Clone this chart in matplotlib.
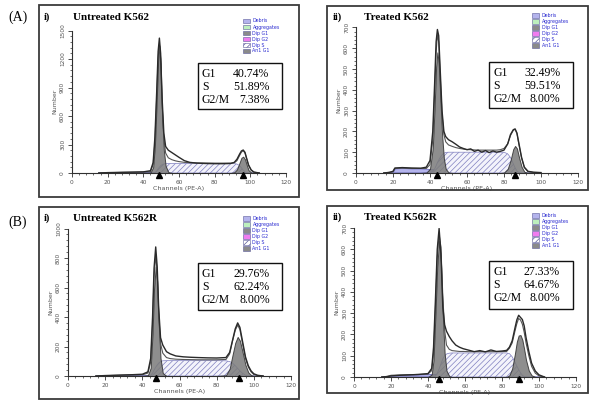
import matplotlib
matplotlib.use('Agg')
import matplotlib.pyplot as plt
from matplotlib.patches import Rectangle
from matplotlib.ticker import MultipleLocator
from matplotlib.transforms import offset_copy

plt.rcParams['hatch.linewidth'] = 0.5
plt.rcParams['font.family'] = ['DejaVu Sans']

# ---------------- data ----------------
group_labels = ['(A)', '(B)']
roman = ['i)', 'ii)', 'i)', 'ii)']
titles = ['Untreated K562', 'Treated K562', 'Untreated K562R', 'Treated K562R']
phase_labels = ['G1', 'S', 'G2/M']
phase_values = [['40.74%', '51.89%', '7.38%'],
                ['32.49%', '59.51%', '8.00%'],
                ['29.76%', '62.24%', '8.00%'],
                ['27.33%', '64.67%', '8.00%']]
legend_labels = ['Debris', 'Aggregates', 'Dip G1', 'Dip G2', 'Dip S', 'An1 G1']
x_ticks_step = 20
y_ticks_step = [300, 100, 200, 100]
y_max = [1500, 700, 1000, 700]
peak_marks = [[49, 96], [44, 86], [47.5, 92], [46, 89]]

# Panel A-i : Untreated K562
ch1 = [15, 20, 25, 30, 35, 40, 44, 45.5, 46.5, 47.5, 48.3, 49, 49.7, 50.5, 51.5, 52.5, 54, 56, 58, 60,
       63, 66, 70, 75, 80, 85, 89, 91, 92.5, 94, 95, 96, 97, 98, 99, 100.5, 102, 105]
total1 = [0, 4, 6, 8, 10, 12, 24, 110, 380, 860, 1280, 1420, 1260, 800, 420, 280, 240, 215, 190, 165,
          130, 112, 104, 100, 98, 98, 100, 112, 145, 200, 232, 242, 218, 150, 85, 32, 10, 0]
fit1 = [0, 3, 5, 7, 8, 10, 14, 90, 330, 800, 1210, 1360, 1200, 740, 360, 210, 160, 140, 128, 120,
        112, 108, 106, 105, 104, 104, 104, 108, 130, 185, 220, 236, 210, 145, 80, 28, 8, 0]
deb1 = [0, 3, 5, 7, 8, 10, 12, 12, 12, 11, 11, 10, 10, 10, 9, 9, 8, 7, 6, 5,
        4, 3, 2, 1, 0, 0, 0, 0, 0, 0, 0, 0, 0, 0, 0, 0, 0, 0]
g1_1 = [0, 0, 0, 0, 0, 0, 5, 60, 290, 760, 1180, 1340, 1160, 640, 240, 75, 10, 0, 0, 0,
        0, 0, 0, 0, 0, 0, 0, 0, 0, 0, 0, 0, 0, 0, 0, 0, 0, 0]
s1 = [0, 0, 0, 0, 0, 0, 0, 0, 4, 22, 45, 62, 76, 88, 95, 98, 100, 100, 100, 100,
      100, 100, 100, 100, 100, 100, 100, 99, 94, 78, 55, 30, 12, 3, 0, 0, 0, 0]
g2_1 = [0, 0, 0, 0, 0, 0, 0, 0, 0, 0, 0, 0, 0, 0, 0, 0, 0, 0, 0, 0,
        0, 0, 0, 0, 0, 0, 0, 8, 38, 110, 160, 172, 145, 85, 30, 5, 0, 0]

# Panel A-ii : Treated K562
ch2 = [15, 18, 20, 21, 25, 30, 35, 38, 40, 41.5, 42.5, 43.3, 44, 44.7, 45.5, 46.5, 47.5, 48.5, 50, 52,
       54, 56, 58, 60, 62, 64, 66, 68, 70, 72, 74, 76, 78, 80, 82, 83.5, 85, 86, 87, 88,
       89.5, 91, 93, 96, 100]
total2 = [0, 3, 8, 24, 26, 24, 23, 28, 60, 200, 430, 630, 690, 660, 500, 300, 200, 175, 160, 150,
          138, 125, 118, 112, 116, 104, 110, 100, 108, 98, 106, 100, 104, 110, 140, 185, 208, 212, 192, 145,
          75, 28, 8, 4, 2]
fit2 = [0, 3, 6, 22, 24, 22, 22, 22, 40, 160, 380, 580, 665, 630, 470, 285, 185, 150, 135, 128,
        122, 118, 115, 113, 112, 111, 110, 110, 110, 110, 110, 110, 112, 118, 140, 180, 205, 210, 190, 140,
        72, 26, 6, 2, 0]
deb2 = [0, 3, 6, 22, 24, 22, 22, 21, 19, 18, 17, 16, 15, 15, 14, 13, 12, 11, 10, 8,
        6, 5, 4, 3, 2, 2, 1, 1, 0, 0, 0, 0, 0, 0, 0, 0, 0, 0, 0, 0,
        0, 0, 0, 0, 0]
g1_2 = [0, 0, 0, 0, 0, 0, 0, 2, 20, 120, 320, 510, 580, 530, 380, 190, 70, 20, 3, 0,
        0, 0, 0, 0, 0, 0, 0, 0, 0, 0, 0, 0, 0, 0, 0, 0, 0, 0, 0, 0,
        0, 0, 0, 0, 0]
s2 = [0, 0, 0, 0, 0, 0, 0, 0, 0, 8, 20, 35, 50, 62, 75, 87, 95, 99, 100, 100,
      100, 100, 100, 100, 100, 100, 100, 100, 100, 100, 100, 100, 100, 100, 92, 75, 45, 25, 10, 2,
      0, 0, 0, 0, 0]
g2_2 = [0, 0, 0, 0, 0, 0, 0, 0, 0, 0, 0, 0, 0, 0, 0, 0, 0, 0, 0, 0,
        0, 0, 0, 0, 0, 0, 0, 0, 0, 0, 0, 0, 0, 2, 20, 60, 115, 130, 118, 80,
        30, 6, 0, 0, 0]

# Panel B-i : Untreated K562R
ch3 = [15, 20, 25, 30, 35, 40, 43, 44.5, 45.5, 46.3, 47.2, 48, 48.8, 49.8, 51, 53, 55, 58, 62, 66,
       70, 75, 80, 85, 87, 88.5, 90, 91.3, 92.5, 94, 95.5, 97, 98.5, 100, 102, 105]
total3 = [0, 3, 5, 7, 9, 12, 28, 120, 400, 730, 875, 740, 460, 260, 210, 165, 150, 136, 130, 127,
          125, 123, 122, 125, 160, 240, 320, 360, 330, 230, 130, 70, 35, 15, 5, 0]
fit3 = [0, 2, 4, 6, 7, 8, 20, 95, 350, 670, 820, 700, 430, 220, 155, 125, 118, 114, 112, 111,
        110, 110, 110, 112, 150, 235, 310, 345, 315, 215, 120, 62, 28, 10, 3, 0]
deb3 = [0, 2, 4, 6, 7, 8, 8, 8, 8, 7, 7, 7, 6, 6, 5, 4, 3, 2, 1, 0,
        0, 0, 0, 0, 0, 0, 0, 0, 0, 0, 0, 0, 0, 0, 0, 0]
g1_3 = [0, 0, 0, 0, 0, 0, 5, 55, 290, 590, 740, 640, 360, 120, 20, 0, 0, 0, 0, 0,
        0, 0, 0, 0, 0, 0, 0, 0, 0, 0, 0, 0, 0, 0, 0, 0]
s3 = [0, 0, 0, 0, 0, 0, 0, 5, 20, 40, 60, 75, 88, 98, 103, 104, 104, 104, 104, 104,
      104, 104, 104, 103, 98, 88, 70, 52, 35, 18, 5, 0, 0, 0, 0, 0]
g2_3 = [0, 0, 0, 0, 0, 0, 0, 0, 0, 0, 0, 0, 0, 0, 0, 0, 0, 0, 0, 0,
        0, 0, 0, 5, 50, 140, 225, 265, 240, 160, 75, 25, 6, 0, 0, 0]

# Panel B-ii : Treated K562R
ch4 = [15, 18, 20, 25, 30, 35, 40, 42, 43, 44, 45, 46, 47, 48, 49, 50, 51.5, 53, 55, 57,
       59, 62, 65, 68, 71, 74, 77, 80, 82.5, 84, 85.5, 87, 88, 89, 90, 91, 92, 93, 94.5, 96,
       98, 100, 103]
total4 = [0, 2, 5, 8, 10, 12, 16, 40, 140, 360, 600, 698, 580, 330, 245, 215, 190, 170, 150, 140,
          133, 126, 119, 124, 118, 127, 120, 122, 125, 140, 170, 230, 268, 290, 280, 270, 240, 185, 120, 65,
          28, 10, 0]
fit4 = [0, 3, 8, 10, 11, 12, 14, 30, 110, 320, 560, 670, 610, 380, 220, 150, 130, 124, 122, 120,
        120, 119, 119, 119, 119, 119, 119, 119, 120, 135, 160, 215, 250, 275, 268, 248, 210, 160, 100, 50,
        18, 5, 0]
deb4 = [0, 3, 8, 10, 11, 12, 14, 15, 15, 15, 14, 13, 12, 11, 10, 9, 8, 6, 5, 4,
        3, 2, 1, 0, 0, 0, 0, 0, 0, 0, 0, 0, 0, 0, 0, 0, 0, 0, 0, 0,
        0, 0, 0]
g1_4 = [0, 0, 0, 0, 0, 0, 0, 12, 80, 290, 520, 640, 540, 290, 110, 30, 4, 0, 0, 0,
        0, 0, 0, 0, 0, 0, 0, 0, 0, 0, 0, 0, 0, 0, 0, 0, 0, 0, 0, 0,
        0, 0, 0]
s4 = [0, 0, 0, 0, 0, 0, 0, 0, 0, 5, 18, 38, 62, 85, 100, 108, 112, 113, 113, 113,
      113, 113, 113, 113, 113, 113, 113, 113, 113, 110, 95, 70, 52, 35, 20, 8, 2, 0, 0, 0,
      0, 0, 0]
g2_4 = [0, 0, 0, 0, 0, 0, 0, 0, 0, 0, 0, 0, 0, 0, 0, 0, 0, 0, 0, 0,
        0, 0, 0, 0, 0, 0, 0, 0, 0, 8, 40, 110, 165, 195, 197, 175, 130, 80, 30, 8,
        0, 0, 0]

series = [(ch1, total1, fit1, deb1, g1_1, s1, g2_1),
          (ch2, total2, fit2, deb2, g1_2, s2, g2_2),
          (ch3, total3, fit3, deb3, g1_3, s3, g2_3),
          (ch4, total4, fit4, deb4, g1_4, s4, g2_4)]

# ---------------- layout (pixels) ----------------
W, H = 592, 400
fig = plt.figure(figsize=(W / 100, H / 100), dpi=100)
fig.patch.set_facecolor('white')


def fx(p):
    return p / W


def fy(p):
    return 1 - p / H


layout = [
    dict(frame=(39, 5, 299, 197), ax=(72, 286, 173, 30.5), title_y=17, roman_x=44, title_x=73,
         leg=(243, 21), box=(198, 63, 282, 109)),
    dict(frame=(327, 6, 588, 190), ax=(356, 578, 173, 27.4), title_y=17, roman_x=333, title_x=364,
         leg=(532, 15.5), box=(489, 62, 573, 108)),
    dict(frame=(39, 207, 299, 398.5), ax=(68, 291, 376, 228.5), title_y=218, roman_x=44, title_x=73,
         leg=(243, 218.5), box=(198, 263, 282, 310)),
    dict(frame=(327, 206, 588, 393), ax=(354, 576, 377, 228), title_y=217, roman_x=333, title_x=364,
         leg=(532, 215.5), box=(489, 261, 573, 309)),
]

legend_styles = [('#b4b4ec', None), ('#bdf0bd', None), ('#8a8a8a', None),
                 ('#f07cf0', None), ('#ffffff', '//////'), ('#8a8a8a', None)]

serif = ['Liberation Serif', 'DejaVu Serif']

for i, L in enumerate(layout):
    ch, total, fit, deb, g1, s, g2 = series[i]
    fx0, fy0, fx1, fy1 = L['frame']
    fig.patches.append(Rectangle((fx(fx0), fy(fy1)), (fx1 - fx0) / W, (fy1 - fy0) / H,
                                 transform=fig.transFigure, fill=False,
                                 edgecolor='#3a3a3a', lw=1.3, zorder=0.5))
    x0, x120, y0, ytop = L['ax']
    ax = fig.add_axes([fx(x0), fy(y0), (x120 - x0) / W, (y0 - ytop) / H])
    ax.patch.set_alpha(0)
    ax.set_xlim(0, 120)
    ax.set_ylim(0, y_max[i])
    for sp in ['top', 'right']:
        ax.spines[sp].set_visible(False)
    for sp in ['left', 'bottom']:
        ax.spines[sp].set_color('#303030')
        ax.spines[sp].set_linewidth(0.8)
    ax.xaxis.set_major_locator(MultipleLocator(x_ticks_step))
    ax.xaxis.set_minor_locator(MultipleLocator(x_ticks_step / 5))
    ax.yaxis.set_major_locator(MultipleLocator(y_ticks_step[i]))
    ax.yaxis.set_minor_locator(MultipleLocator(y_ticks_step[i] / 5))
    ax.tick_params(which='major', length=3, width=0.6, color='#303030',
                   labelsize=4.2, labelcolor='#555555', pad=2)
    ax.tick_params(which='minor', length=1.6, width=0.5, color='#303030')
    ax.tick_params(axis='y', labelrotation=90)
    for lab in ax.get_yticklabels():
        lab.set_verticalalignment('center')
    ax.set_ylabel('Number', fontsize=4.5, color='#555555', labelpad=2)
    ax.set_xlabel('Channels (PE-A)', fontsize=4.6, color='#555555', labelpad=1)

    ax.fill_between(ch, 0, deb, facecolor='#b4b4ec', edgecolor='#5a5ab4', lw=0.5, zorder=1)
    ax.fill_between(ch, 0, s, facecolor='#f3f3fb', edgecolor='#8080c0', hatch='//////',
                    lw=0.5, zorder=2)
    ax.fill_between(ch, 0, g1, facecolor='#7a7a7a', alpha=0.85, edgecolor='#2e2e2e',
                    lw=0.7, zorder=3)
    ax.fill_between(ch, 0, g2, facecolor='#7a7a7a', alpha=0.85, edgecolor='#2e2e2e',
                    lw=0.7, zorder=3)
    ax.plot(ch, fit, color='#555555', lw=0.8, zorder=4)
    ax.plot(ch, total, color='#2a2a2a', lw=1.0, zorder=5)
    tr = offset_copy(ax.transData, fig=fig, x=0, y=-2, units='dots')
    ax.plot(peak_marks[i], [0] * len(peak_marks[i]), '^', color='black', ms=4,
            transform=tr, clip_on=False, zorder=6)

    # titles
    fig.text(fx(L['roman_x']), fy(L['title_y']), roman[i], family=serif, weight='bold',
             fontsize=7.5, va='center', ha='left')
    fig.text(fx(L['title_x']), fy(L['title_y']), titles[i], family=serif, weight='bold',
             fontsize=8, va='center', ha='left')

    # legend
    lx, ly = L['leg']
    for k, lab in enumerate(legend_labels):
        fc, hatch = legend_styles[k]
        yy = ly + k * 6
        fig.patches.append(Rectangle((fx(lx), fy(yy + 2.4)), 7 / W, 4.8 / H,
                                     transform=fig.transFigure, facecolor=fc,
                                     edgecolor='#5a5a9a', lw=0.4, hatch=hatch, zorder=2))
        fig.text(fx(lx + 9.5), fy(yy), lab, fontsize=3.4, color='#2a2ad0', va='center', ha='left')

    # stats box
    bx0, by0, bx1, by1 = L['box']
    fig.patches.append(Rectangle((fx(bx0), fy(by1)), (bx1 - bx0) / W, (by1 - by0) / H,
                                 transform=fig.transFigure, facecolor='white',
                                 edgecolor='#111111', lw=1.0, zorder=2))
    val_off = [35, 35, 41]
    for r, lab in enumerate(phase_labels):
        yy = by0 + 11 + r * 13
        fig.text(fx(bx0 + 4), fy(yy), lab, family=serif, fontsize=8.5, va='center',
                 ha='left', zorder=3)
        fig.text(fx(bx0 + val_off[r]), fy(yy), phase_values[i][r], family=serif,
                 fontsize=8.5, va='center', ha='left', zorder=3)

fig.text(fx(8), fy(17), group_labels[0], family=serif, fontsize=10, va='center', ha='left')
fig.text(fx(8), fy(222), group_labels[1], family=serif, fontsize=10, va='center', ha='left')

fig.savefig('out.png', dpi=100)
